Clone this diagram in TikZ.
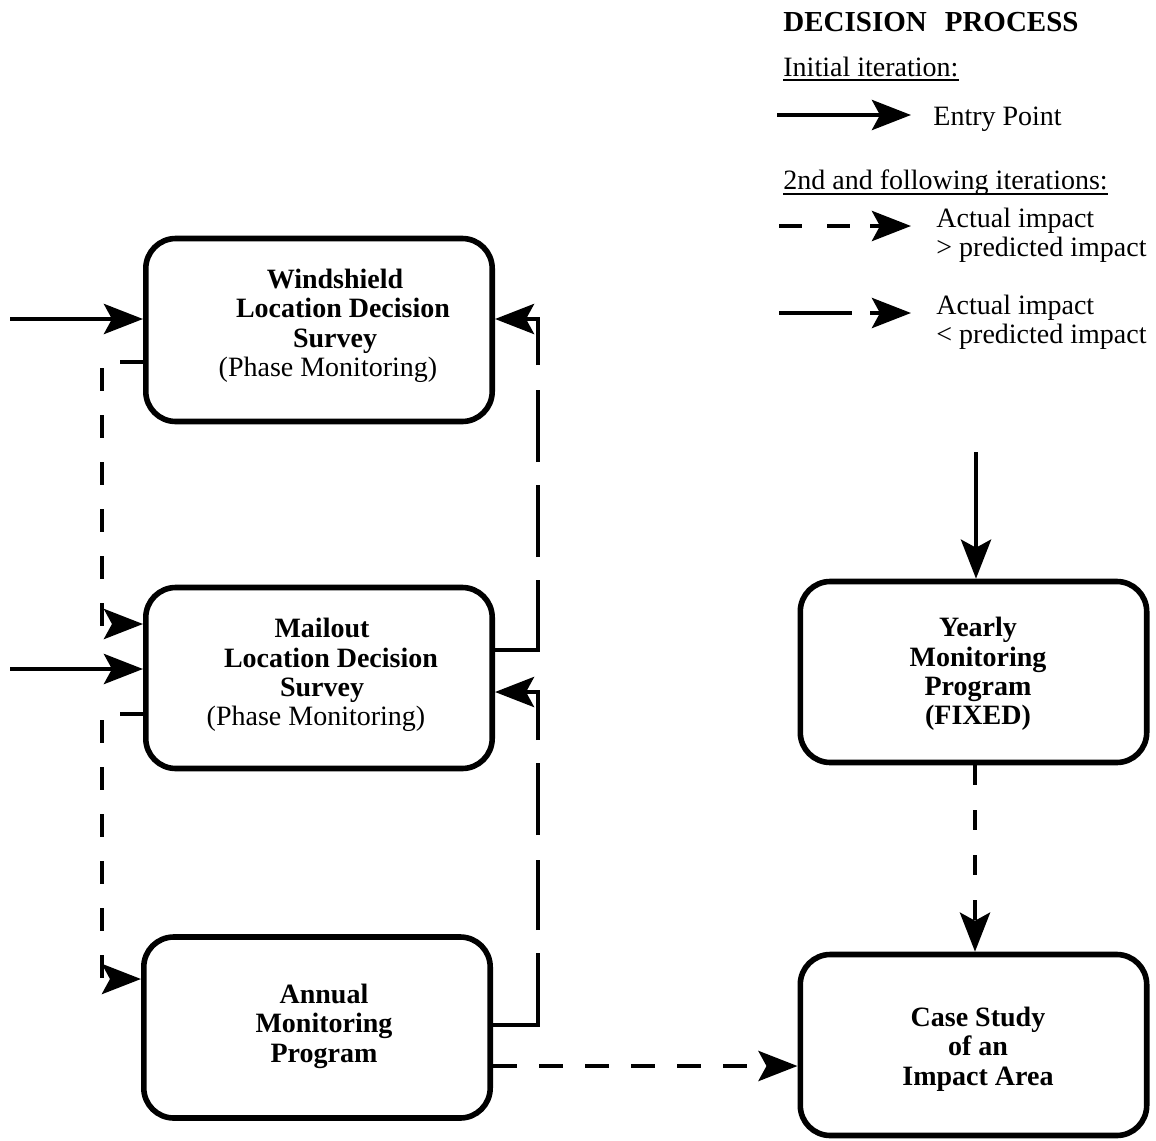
\documentclass[tikz,border=0pt]{standalone}
\usepackage{fontspec}
\setmainfont{Liberation Serif}
\usetikzlibrary{arrows.meta,calc}
\begin{document}
\begin{tikzpicture}[x=0.5pt,y=-0.5pt,
  box/.style={draw,line width=2.8pt,rounded corners=15pt,minimum width=173.2pt,minimum height=90.5pt,inner sep=0pt},
  boxtext/.style={font=\fontsize{14}{14.7}\selectfont\bfseries,align=center,inner sep=0pt},
  legtext/.style={font=\fontsize{14}{14.5}\selectfont,inner sep=0pt},
  legbold/.style={font=\fontsize{14.5}{15}\selectfont\bfseries,inner sep=0pt},
  arrowtip/.style={-{Stealth[length=19.5pt,width=15pt,inset=4pt]}},
  conn/.style={line width=2.4pt,arrowtip},
  uline/.style={line width=1pt},
]
\useasboundingbox (0,0) rectangle (1156,1140);

% boxes
\node[box,minimum height=91.5pt] (ws) at (319,330) {};
\node[box] (ml) at (319,678) {};
\node[box] (an) at (317,1027.5) {};
\node[box] (yr) at (973.5,672) {};
\node[box] (cs) at (973.5,1045) {};

% box texts
\node[boxtext] (wst) at (335,326) {Windshield\\\hspace*{8pt}Location Decision\\Survey\\{\mdseries (Phase Monitoring)}\hspace*{7pt}};
\node[boxtext] (mlt) at (322,675) {Mailout\\\hspace*{9pt}Location Decision\\Survey\\{\mdseries (Phase Monitoring)}\hspace*{6pt}};
\node[boxtext] (ant) at (324,1026) {Annual\\Monitoring\\Program};
\node[boxtext] (yrt) at (978,674) {Yearly\\Monitoring\\Program\\(FIXED)};
\node[boxtext] (cst) at (978,1049) {Case Study\\of an\\Impact Area};

% entry points
\coordinate (in1) at (10,319);
\coordinate (in2) at (10,669);
\coordinate (in3) at (976,452);
\draw[conn] (in1) -- ($(ws.west)+(0,-11)$);
\draw[conn] (in2) -- ($(ml.west)+(0,-9)$);
\draw[conn] (in3) -- ($(yr.north)+(2.5,0)$);

% left dashed (actual > predicted)
\draw[conn,dash pattern=on 11.5pt off 12pt] ($(ws.west)+(0,32)$) -| ($(ml.west)+(-41,-54)$) -- ($(ml.west)+(0,-54)$);
\draw[conn,dash pattern=on 11.5pt off 12pt] ($(ml.west)+(0,36)$) -| ($(an.west)+(-39,-48.5)$) -- ($(an.west)+(0,-48.5)$);

% right long dashes (actual < predicted)
\draw[conn,dash pattern=on 56.5pt off 11.5pt on 36pt off 11.5pt on 36pt off 12.5pt on 200pt]
  ($(ml.east)+(0,-28)$) -| ($(ws.east)+(43,-11)$) -- ($(ws.east)+(0,-11)$);
\draw[conn,dash pattern=on 58.5pt off 11.5pt on 35pt off 12.5pt on 36pt off 11.5pt on 200pt]
  ($(an.east)+(0,-2.5)$) -| ($(ml.east)+(43,14)$) -- ($(ml.east)+(0,14)$);

% dashed to case study
\draw[conn,dash pattern=on 12pt off 11pt] ($(an.east)+(0,38.5)$) -- ($(cs.west)+(0,21)$);
\draw[conn,dash pattern=on 10pt off 12.5pt] ($(yr.south)+(1.5,0)$) -- ($(cs.north)+(1.5,0)$);

% legend
\node[legbold,anchor=base west] (title) at (783,32) {DECISION\hspace{9pt}PROCESS};
\node[legtext,anchor=base west] (init) at (783,76) {Initial iteration:};
\draw[uline] ([yshift=-2pt]init.base west) -- ([yshift=-2pt]init.base east);
\coordinate (ea) at (777,115);
\coordinate (eb) at (911,115);
\draw[conn] (ea) -- (eb);
\node[legtext,anchor=base west] (entry) at (933,125) {Entry Point};
\node[legtext,anchor=base west] (iter) at (783,189) {2nd and following iterations:};
\draw[uline] ([yshift=-2.5pt]iter.base west) -- ([yshift=-2.5pt]iter.base east);

\coordinate (da) at (779,226);
\coordinate (db) at (852,226);
\coordinate (dc) at (870,226);
\coordinate (dd) at (911,226);
\draw[line width=2.4pt,dash pattern=on 11.5pt off 12.5pt] (da) -- (db);
\draw[conn] (dc) -- (dd);
\node[legtext,anchor=north west,align=left] (gt) at (936,208) {Actual impact\\> predicted impact};

\coordinate (la) at (779,313);
\coordinate (lb) at (852,313);
\coordinate (lc) at (870,313);
\coordinate (ld) at (911,313);
\draw[line width=2.4pt] (la) -- (lb);
\draw[conn] (lc) -- (ld);
\node[legtext,anchor=north west,align=left] (lt) at (936,295) {Actual impact\\< predicted impact};
\end{tikzpicture}
\end{document}
